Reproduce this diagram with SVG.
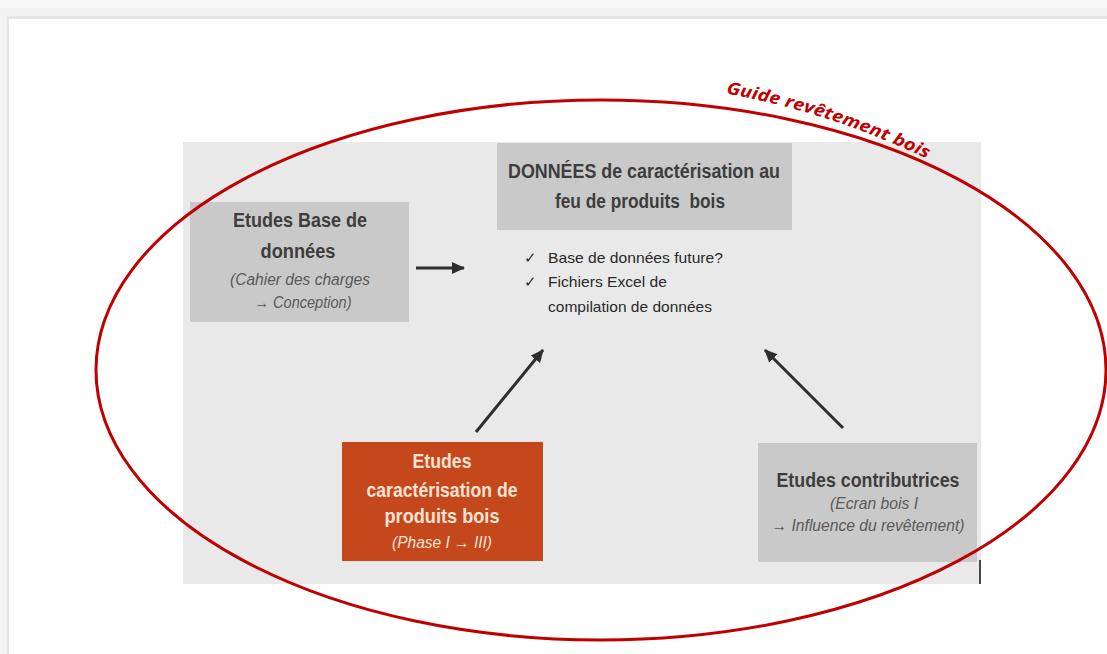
<svg xmlns="http://www.w3.org/2000/svg" width="1107" height="654" viewBox="0 0 1107 654">
<defs>
<marker id="ah" markerUnits="userSpaceOnUse" markerWidth="14" markerHeight="12" refX="12" refY="6" orient="auto">
<path d="M0,0 L13,6 L0,12 z" fill="#2e2e2e"/>
</marker>
<path id="guidePath" d="M 722,93 Q 830,111 940,165"/>
</defs>
<style>
.frame{fill:#ffffff}
.panel{fill:#e9e9e9}
.gbox{fill:#c9c9c9}
.obox{fill:#c4481c}
.t{font-family:"Liberation Sans Narrow","Liberation Sans",Arial,sans-serif;text-anchor:middle}
.b{font-weight:bold;font-size:20px;fill:#3d3d3d}
.i{font-style:italic;font-size:16px;fill:#5a5a5a}
.ob{font-weight:bold;font-size:20px;fill:#fbe3d4}
.oi{font-style:italic;font-size:16px;fill:#fbe3d4}
.l{font-family:"Liberation Sans Narrow","Liberation Sans",Arial,sans-serif;font-size:15px;fill:#2a2a2a}
.arr{stroke:#2e2e2e;stroke-width:3;fill:none;marker-end:url(#ah)}
.guide{font-family:"Open Sans","Liberation Sans",sans-serif;font-weight:bold;font-style:italic;font-size:17px;fill:#c00000}
</style>
<rect x="0" y="0" width="1107" height="654" fill="#ffffff"/>
<rect x="0" y="0" width="1107" height="8" fill="#f8f8f8"/>
<rect x="0" y="8" width="1107" height="8" fill="#f1f1f1"/>
<rect x="0" y="16" width="1107" height="3" fill="#e5e5e5"/>
<rect x="0" y="16" width="7" height="638" fill="#f2f2f2"/>
<rect x="7" y="16" width="2" height="638" fill="#e6e6e6"/>
<rect class="panel" x="183" y="142" width="798" height="442"/>
<g id="node-donnees">
<rect class="gbox" x="497" y="143" width="295" height="87"/>
<text class="t b" x="644" y="178" textLength="272" lengthAdjust="spacingAndGlyphs">DONNÉES de caractérisation au</text>
<text class="t b" x="640" y="208" textLength="170" lengthAdjust="spacingAndGlyphs" xml:space="preserve">feu de produits  bois</text>
</g>
<g id="node-checklist">
<text class="l" x="524" y="263">✓</text>
<text class="l" x="548" y="263" textLength="175" lengthAdjust="spacingAndGlyphs">Base de données future?</text>
<text class="l" x="524" y="287">✓</text>
<text class="l" x="548" y="287" textLength="119" lengthAdjust="spacingAndGlyphs">Fichiers Excel de</text>
<text class="l" x="548" y="312" textLength="164" lengthAdjust="spacingAndGlyphs">compilation de données</text>
</g>
<g id="node-base">
<rect class="gbox" x="190" y="202" width="219" height="120"/>
<text class="t b" x="300" y="227" textLength="134" lengthAdjust="spacingAndGlyphs">Etudes Base de</text>
<text class="t b" x="298" y="258" textLength="75" lengthAdjust="spacingAndGlyphs">données</text>
<text class="t i" x="300" y="285" textLength="140" lengthAdjust="spacingAndGlyphs">(Cahier des charges</text>
<text class="t i" x="303" y="308" textLength="97" lengthAdjust="spacingAndGlyphs">→ Conception)</text>
</g>
<g id="node-caracterisation">
<rect class="obox" x="342" y="442" width="201" height="119"/>
<text class="t ob" x="442" y="468" textLength="59" lengthAdjust="spacingAndGlyphs">Etudes</text>
<text class="t ob" x="442" y="497" textLength="151" lengthAdjust="spacingAndGlyphs">caractérisation de</text>
<text class="t ob" x="442" y="523" textLength="115" lengthAdjust="spacingAndGlyphs">produits bois</text>
<text class="t oi" x="442" y="548" textLength="100" lengthAdjust="spacingAndGlyphs">(Phase I → III)</text>
</g>
<g id="node-contributrices">
<rect class="gbox" x="758" y="443" width="219" height="119"/>
<text class="t b" x="868" y="487" textLength="183" lengthAdjust="spacingAndGlyphs">Etudes contributrices</text>
<text class="t i" x="874" y="509" textLength="88" lengthAdjust="spacingAndGlyphs">(Ecran bois I</text>
<text class="t i" x="868" y="531" textLength="193" lengthAdjust="spacingAndGlyphs">→ Influence du revêtement)</text>
</g>
<g id="connectors">
<line class="arr" x1="416" y1="268" x2="464" y2="268"/>
<line class="arr" x1="476" y1="432" x2="543" y2="350"/>
<line class="arr" x1="843" y1="428" x2="765" y2="350"/>
</g>
<line x1="980" y1="560" x2="980" y2="584" stroke="#111" stroke-width="1.5"/>
<g id="guide">
<ellipse cx="601" cy="370" rx="505" ry="270" fill="none" stroke="#c00000" stroke-width="3"/>
<text class="guide"><textPath href="#guidePath" startOffset="4" textLength="212" lengthAdjust="spacingAndGlyphs">Guide revêtement bois</textPath></text>
</g>
</svg>
